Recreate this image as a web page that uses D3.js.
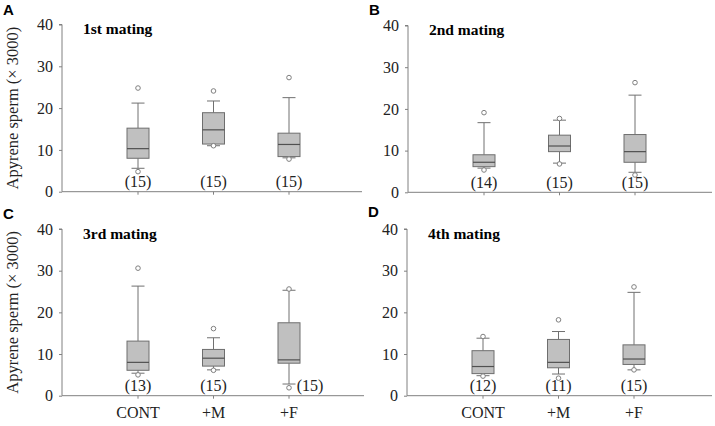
<!DOCTYPE html>
<html>
<head>
<meta charset="utf-8">
<script src="https://cdn.jsdelivr.net/npm/d3@7"></script>
<style>
  html, body { margin: 0; padding: 0; background: #fff; }
  svg { display: block; }
  .serif { font-family: "Liberation Serif", "Times New Roman", serif; }
  .sans { font-family: "Liberation Sans", Arial, sans-serif; }
</style>
</head>
<body>
<svg id="chart" width="715" height="426"></svg>
<script>
// ---- Data ----
const categories = ["CONT", "+M", "+F"];
const yTicks = [0, 10, 20, 30, 40];
const panelLetters = ["A", "B", "C", "D"];
const panelTitles = ["1st mating", "2nd mating", "3rd mating", "4th mating"];
const yLabel = "Apyrene sperm (\u00d7 3000)";

// per panel, per category: [whiskerLow, q1, median, q3, whiskerHigh]
const statsA = [[5.6, 8.0, 10.3, 15.2, 21.2], [11.0, 11.4, 14.8, 18.9, 21.7], [8.1, 8.4, 11.3, 14.0, 22.5]];
const statsB = [[5.8, 6.15, 7.2, 9.0, 16.7], [7.0, 9.75, 11.1, 13.7, 17.3], [4.8, 7.2, 9.75, 13.85, 23.3]];
const statsC = [[5.4, 6.1, 8.0, 13.1, 26.3], [6.2, 7.1, 9.0, 11.1, 13.9], [2.8, 7.8, 8.6, 17.5, 25.3]];
const statsD = [[4.8, 5.3, 7.0, 10.8, 13.8], [5.2, 6.7, 8.0, 13.5, 15.4], [6.2, 7.5, 8.8, 12.2, 24.8]];

// outliers per panel, per category
const outA = [[24.8, 4.8], [24.1, 11.0], [27.3, 7.8]];
const outB = [[19.1, 5.35], [17.7, 6.8], [26.3, 4.15]];
const outC = [[30.6, 5.0], [16.1, 6.1], [25.6, 1.9]];
const outD = [[14.2, 4.7], [18.2, 4.2], [26.1, 6.2]];

// sample sizes
const nA = ["(15)", "(15)", "(15)"];
const nB = ["(14)", "(15)", "(15)"];
const nC = ["(13)", "(15)", "(15)"];
const nD = ["(12)", "(11)", "(15)"];

const panelStats = [statsA, statsB, statsC, statsD];
const panelOut = [outA, outB, outC, outD];
const panelN = [nA, nB, nC, nD];

// ---- Layout ----
const panels = [
  { axisX: 62,  xEnd: 362, yTop: 24.5, yBot: 191.7, letterX: 3,   letterY: 15,  col: 0, row: 0 },
  { axisX: 408, xEnd: 712, yTop: 25.5, yBot: 192.3, letterX: 369, letterY: 15,  col: 1, row: 0 },
  { axisX: 62,  xEnd: 364, yTop: 229,  yBot: 395.7, letterX: 3,   letterY: 219, col: 0, row: 1 },
  { axisX: 407, xEnd: 712, yTop: 229,  yBot: 395.7, letterX: 368, letterY: 217, col: 1, row: 1 }
];

const svg = d3.select("#chart");
const axisColor = "#808080";

panels.forEach((p, i) => {
  const g = svg.append("g");
  const y = d3.scaleLinear().domain([0, 40]).range([p.yBot, p.yTop]);
  const x = d3.scalePoint().domain(categories).range([p.axisX + 76, p.axisX + 227]);

  // panel letter
  g.append("text")
    .attr("class", "sans")
    .attr("x", p.letterX).attr("y", p.letterY)
    .attr("font-weight", "bold").attr("font-size", 15)
    .attr("fill", "#000")
    .text(panelLetters[i]);

  // y axis
  const yAxis = d3.axisLeft(y).tickValues(yTicks).tickSize(3).tickPadding(6);
  const ya = g.append("g").attr("transform", `translate(${p.axisX},0)`).call(yAxis);
  ya.attr("font-family", null).attr("font-size", null);
  ya.select(".domain").attr("stroke", axisColor).attr("d", `M-3,${p.yTop}H0V${p.yBot}`);
  ya.selectAll(".tick line").attr("stroke", axisColor);
  ya.selectAll(".tick text")
    .attr("class", "serif")
    .style("font-family", '"Liberation Serif", "Times New Roman", serif')
    .style("font-size", "16px").attr("fill", "#222");

  // x axis line
  g.append("line")
    .attr("x1", p.axisX).attr("x2", p.xEnd)
    .attr("y1", p.yBot).attr("y2", p.yBot)
    .attr("stroke", axisColor).attr("stroke-width", 1);
  // x ticks (downward)
  g.selectAll(".xtick").data(categories).enter().append("line")
    .attr("x1", d => x(d)).attr("x2", d => x(d))
    .attr("y1", p.yBot).attr("y2", p.yBot + 3)
    .attr("stroke", axisColor);

  // title
  g.append("text")
    .attr("class", "serif")
    .attr("x", p.axisX + 21).attr("y", p.yTop + 9.5)
    .attr("font-weight", "bold").style("font-size", "15.5px")
    .attr("fill", "#000")
    .text(panelTitles[i]);

  // y label (left column only)
  if (p.col === 0) {
    const cy = (p.yTop + p.yBot) / 2;
    g.append("text")
      .attr("class", "serif")
      .attr("transform", `translate(17.5,${cy}) rotate(-90)`)
      .attr("text-anchor", "middle")
      .style("font-size", "16.5px")
      .attr("fill", "#222")
      .text(yLabel);
  }

  // x category labels (bottom row only)
  if (p.row === 1) {
    g.selectAll(".xlab").data(categories).enter().append("text")
      .attr("class", "serif")
      .attr("x", d => x(d)).attr("y", p.yBot + 22)
      .attr("text-anchor", "middle")
      .style("font-size", "16px")
      .attr("fill", "#222")
      .text(d => d);
  }

  const stats = panelStats[i];
  const outs = panelOut[i];
  const ns = panelN[i];
  const boxW = 22, capW = 13;

  categories.forEach((c, j) => {
    const [lo, q1, med, q3, hi] = stats[j];
    const cx = x(c);
    const bg = g.append("g");
    // whiskers
    bg.append("line").attr("x1", cx).attr("x2", cx).attr("y1", y(q3)).attr("y2", y(hi))
      .attr("stroke", "#707070");
    bg.append("line").attr("x1", cx).attr("x2", cx).attr("y1", y(q1)).attr("y2", y(lo))
      .attr("stroke", "#707070");
    bg.append("line").attr("x1", cx - capW / 2).attr("x2", cx + capW / 2).attr("y1", y(hi)).attr("y2", y(hi))
      .attr("stroke", "#707070");
    bg.append("line").attr("x1", cx - capW / 2).attr("x2", cx + capW / 2).attr("y1", y(lo)).attr("y2", y(lo))
      .attr("stroke", "#707070");
    // box
    bg.append("rect")
      .attr("x", cx - boxW / 2).attr("y", y(q3))
      .attr("width", boxW).attr("height", y(q1) - y(q3))
      .attr("fill", "#c0c0c0").attr("stroke", "#6e6e6e").attr("stroke-width", 1);
    // median
    bg.append("line").attr("x1", cx - boxW / 2).attr("x2", cx + boxW / 2)
      .attr("y1", y(med)).attr("y2", y(med))
      .attr("stroke", "#505050").attr("stroke-width", 1.2);
    // outliers
    bg.selectAll("circle").data(outs[j]).enter().append("circle")
      .attr("cx", cx).attr("cy", d => y(d)).attr("r", 2.3)
      .attr("fill", "#fff").attr("stroke", "#808080").attr("stroke-width", 1);
    // n label
    const offset = (i === 2 && j === 2) ? 21 : 0;
    bg.append("text")
      .attr("class", "serif")
      .attr("x", cx + offset).attr("y", p.yBot - 4.5)
      .attr("text-anchor", "middle")
      .style("font-size", "16px")
      .attr("fill", "#222")
      .text(ns[j]);
  });
});
</script>
</body>
</html>
